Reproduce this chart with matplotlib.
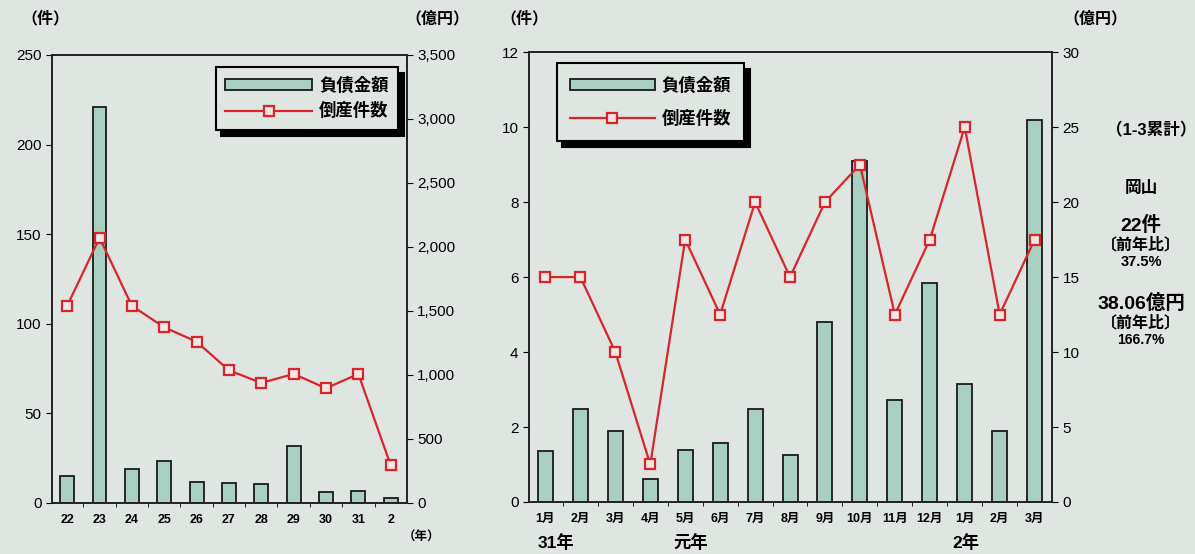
import numpy as np
from matplotlib import pyplot as plt
from matplotlib.patches import Patch
from matplotlib.lines import Line2D

plt.rcParams['font.family'] = ['Liberation Sans', 'Noto Sans CJK JP', 'DejaVu Sans']

# 左: 年別
years = ['22', '23', '24', '25', '26', '27', '28', '29', '30', '31', '2']
year_count = [110, 148, 110, 98, 90, 74, 67, 72, 64, 72, 21]
year_debt = [207, 3090, 268, 326, 166, 157, 152, 447, 88, 90, 41]

# 右: 月別
months = ['1月', '2月', '3月', '4月', '5月', '6月', '7月', '8月', '9月', '10月',
          '11月', '12月', '1月', '2月', '3月']
month_count = [6, 6, 4, 1, 7, 5, 8, 6, 8, 9, 5, 7, 10, 5, 7]
month_debt = [3.37, 6.17, 4.71, 1.53, 3.49, 3.94, 6.20, 3.11, 11.97, 22.74,
              6.83, 14.61, 7.90, 4.71, 25.45]

bg = '#dfe6e2'
bar_fc = '#a9cfc1'
red = '#d8242a'
jp = ['Liberation Sans', 'Noto Sans CJK JP']

fig = plt.figure(figsize=(11.95, 5.54), dpi=100)
fig.patch.set_facecolor(bg)


def make_chart(rect, labels, counts, debts, ylim1, yticks1, ylim2, yticks2, fmt2):
    ax = fig.add_axes(rect)
    ax2 = ax.twinx()
    x = np.arange(len(labels))
    ax2.bar(x, debts, width=0.43, color=bar_fc, edgecolor='#1a1a1a', linewidth=1.3)
    ax.plot(x, counts, color=red, linewidth=1.6, marker='s', markersize=7,
            markerfacecolor='#f4e6e4', markeredgecolor=red, markeredgewidth=1.6)
    ax.set_zorder(ax2.get_zorder() + 1)
    ax.patch.set_visible(False)
    ax2.patch.set_facecolor(bg)
    ax.set_xlim(-0.47, len(labels) - 0.5)
    ax.set_ylim(*ylim1)
    ax.set_yticks(yticks1)
    ax2.set_ylim(*ylim2)
    ax2.set_yticks(yticks2)
    ax2.set_yticklabels([fmt2(v) for v in yticks2])
    ax.set_xticks(x)
    ax.set_xticklabels(labels, fontsize=9, fontweight='bold')
    ax.set_xticks(x[:-1] + 0.5, minor=True)
    for a in (ax, ax2):
        for s in a.spines.values():
            s.set_linewidth(1.2)
            s.set_color('#222222')
    ax.tick_params(axis='y', labelsize=11, length=4, direction='out')
    ax2.tick_params(axis='y', labelsize=11, length=4, direction='out')
    ax.tick_params(axis='x', length=0, pad=8)
    ax.tick_params(axis='x', which='minor', length=3, direction='out')
    handles = [Patch(facecolor=bar_fc, edgecolor='#1a1a1a', linewidth=1.3),
               Line2D([], [], color=red, linewidth=1.6, marker='s', markersize=7,
                      markerfacecolor='#f4e6e4', markeredgecolor=red, markeredgewidth=1.6)]
    return ax, ax2, handles


def add_legend(ax, handles, loc, anchor, spacing, pad, hlen):
    leg = ax.legend(handles, ['負債金額', '倒産件数'], loc=loc, bbox_to_anchor=anchor,
                    frameon=True, fancybox=False, edgecolor='black', facecolor=bg,
                    handlelength=hlen, handleheight=0.6, handletextpad=0.4,
                    borderpad=pad, labelspacing=spacing, borderaxespad=0,
                    prop={'family': ['Noto Sans CJK JP'], 'weight': 'bold', 'size': 12.5},
                    shadow={'color': 'black', 'alpha': 1, 'ox': 4, 'oy': -4})
    leg.get_frame().set_linewidth(1.5)
    leg.get_frame().set_boxstyle('square', pad=0)
    return leg


# 左チャート
ax, ax2, h = make_chart([0.0435, 0.0921, 0.297, 0.8087], years, year_count, year_debt,
                        (0, 250), range(0, 251, 50), (0, 3500), list(range(0, 3501, 500)),
                        lambda v: f'{v:,}')
add_legend(ax, h, 'upper right', (0.975, 0.973), 0.45, 0.55, 5.0)

fig.text(0.018, 0.967, '（件）', fontsize=11.5, fontweight='bold', ha='left', va='center',
         family=jp)
fig.text(0.339, 0.967, '（億円）', fontsize=11.5, fontweight='bold', ha='left', va='center',
         family=jp)
fig.text(0.337, 0.03, '（年）', fontsize=9, fontweight='bold', ha='left', va='center',
         family=jp)

# 右チャート
ax, ax2, h = make_chart([0.4427, 0.0939, 0.4377, 0.812], months, month_count, month_debt,
                        (0, 12), range(0, 13, 2), (0, 30), list(range(0, 31, 5)),
                        lambda v: f'{v}')
add_legend(ax, h, 'upper left', (0.053, 0.975), 0.9, 0.75, 4.9)

fig.text(0.419, 0.967, '（件）', fontsize=11.5, fontweight='bold', ha='left', va='center',
         family=jp)
fig.text(0.89, 0.967, '（億円）', fontsize=11.5, fontweight='bold', ha='left', va='center',
         family=jp)
for xx, t in [(0.465, '31年'), (0.578, '元年'), (0.808, '2年')]:
    fig.text(xx, 0.02, t, fontsize=12.5, fontweight='bold', ha='center', va='center',
             family=jp)

note = [(0.963, 0.765, '（1-3累計）', 12), (0.955, 0.66, '岡山', 12),
        (0.955, 0.593, '22件', 14), (0.955, 0.558, '〔前年比〕', 11.5),
        (0.955, 0.527, '37.5%', 10.5), (0.955, 0.453, '38.06億円', 14),
        (0.955, 0.417, '〔前年比〕', 11.5), (0.955, 0.387, '166.7%', 10)]
for xx, yy, t, fs in note:
    fig.text(xx, yy, t, fontsize=fs, fontweight='bold', ha='center', va='center',
             family=jp)

fig.savefig('out.png', dpi=100, facecolor=bg)
